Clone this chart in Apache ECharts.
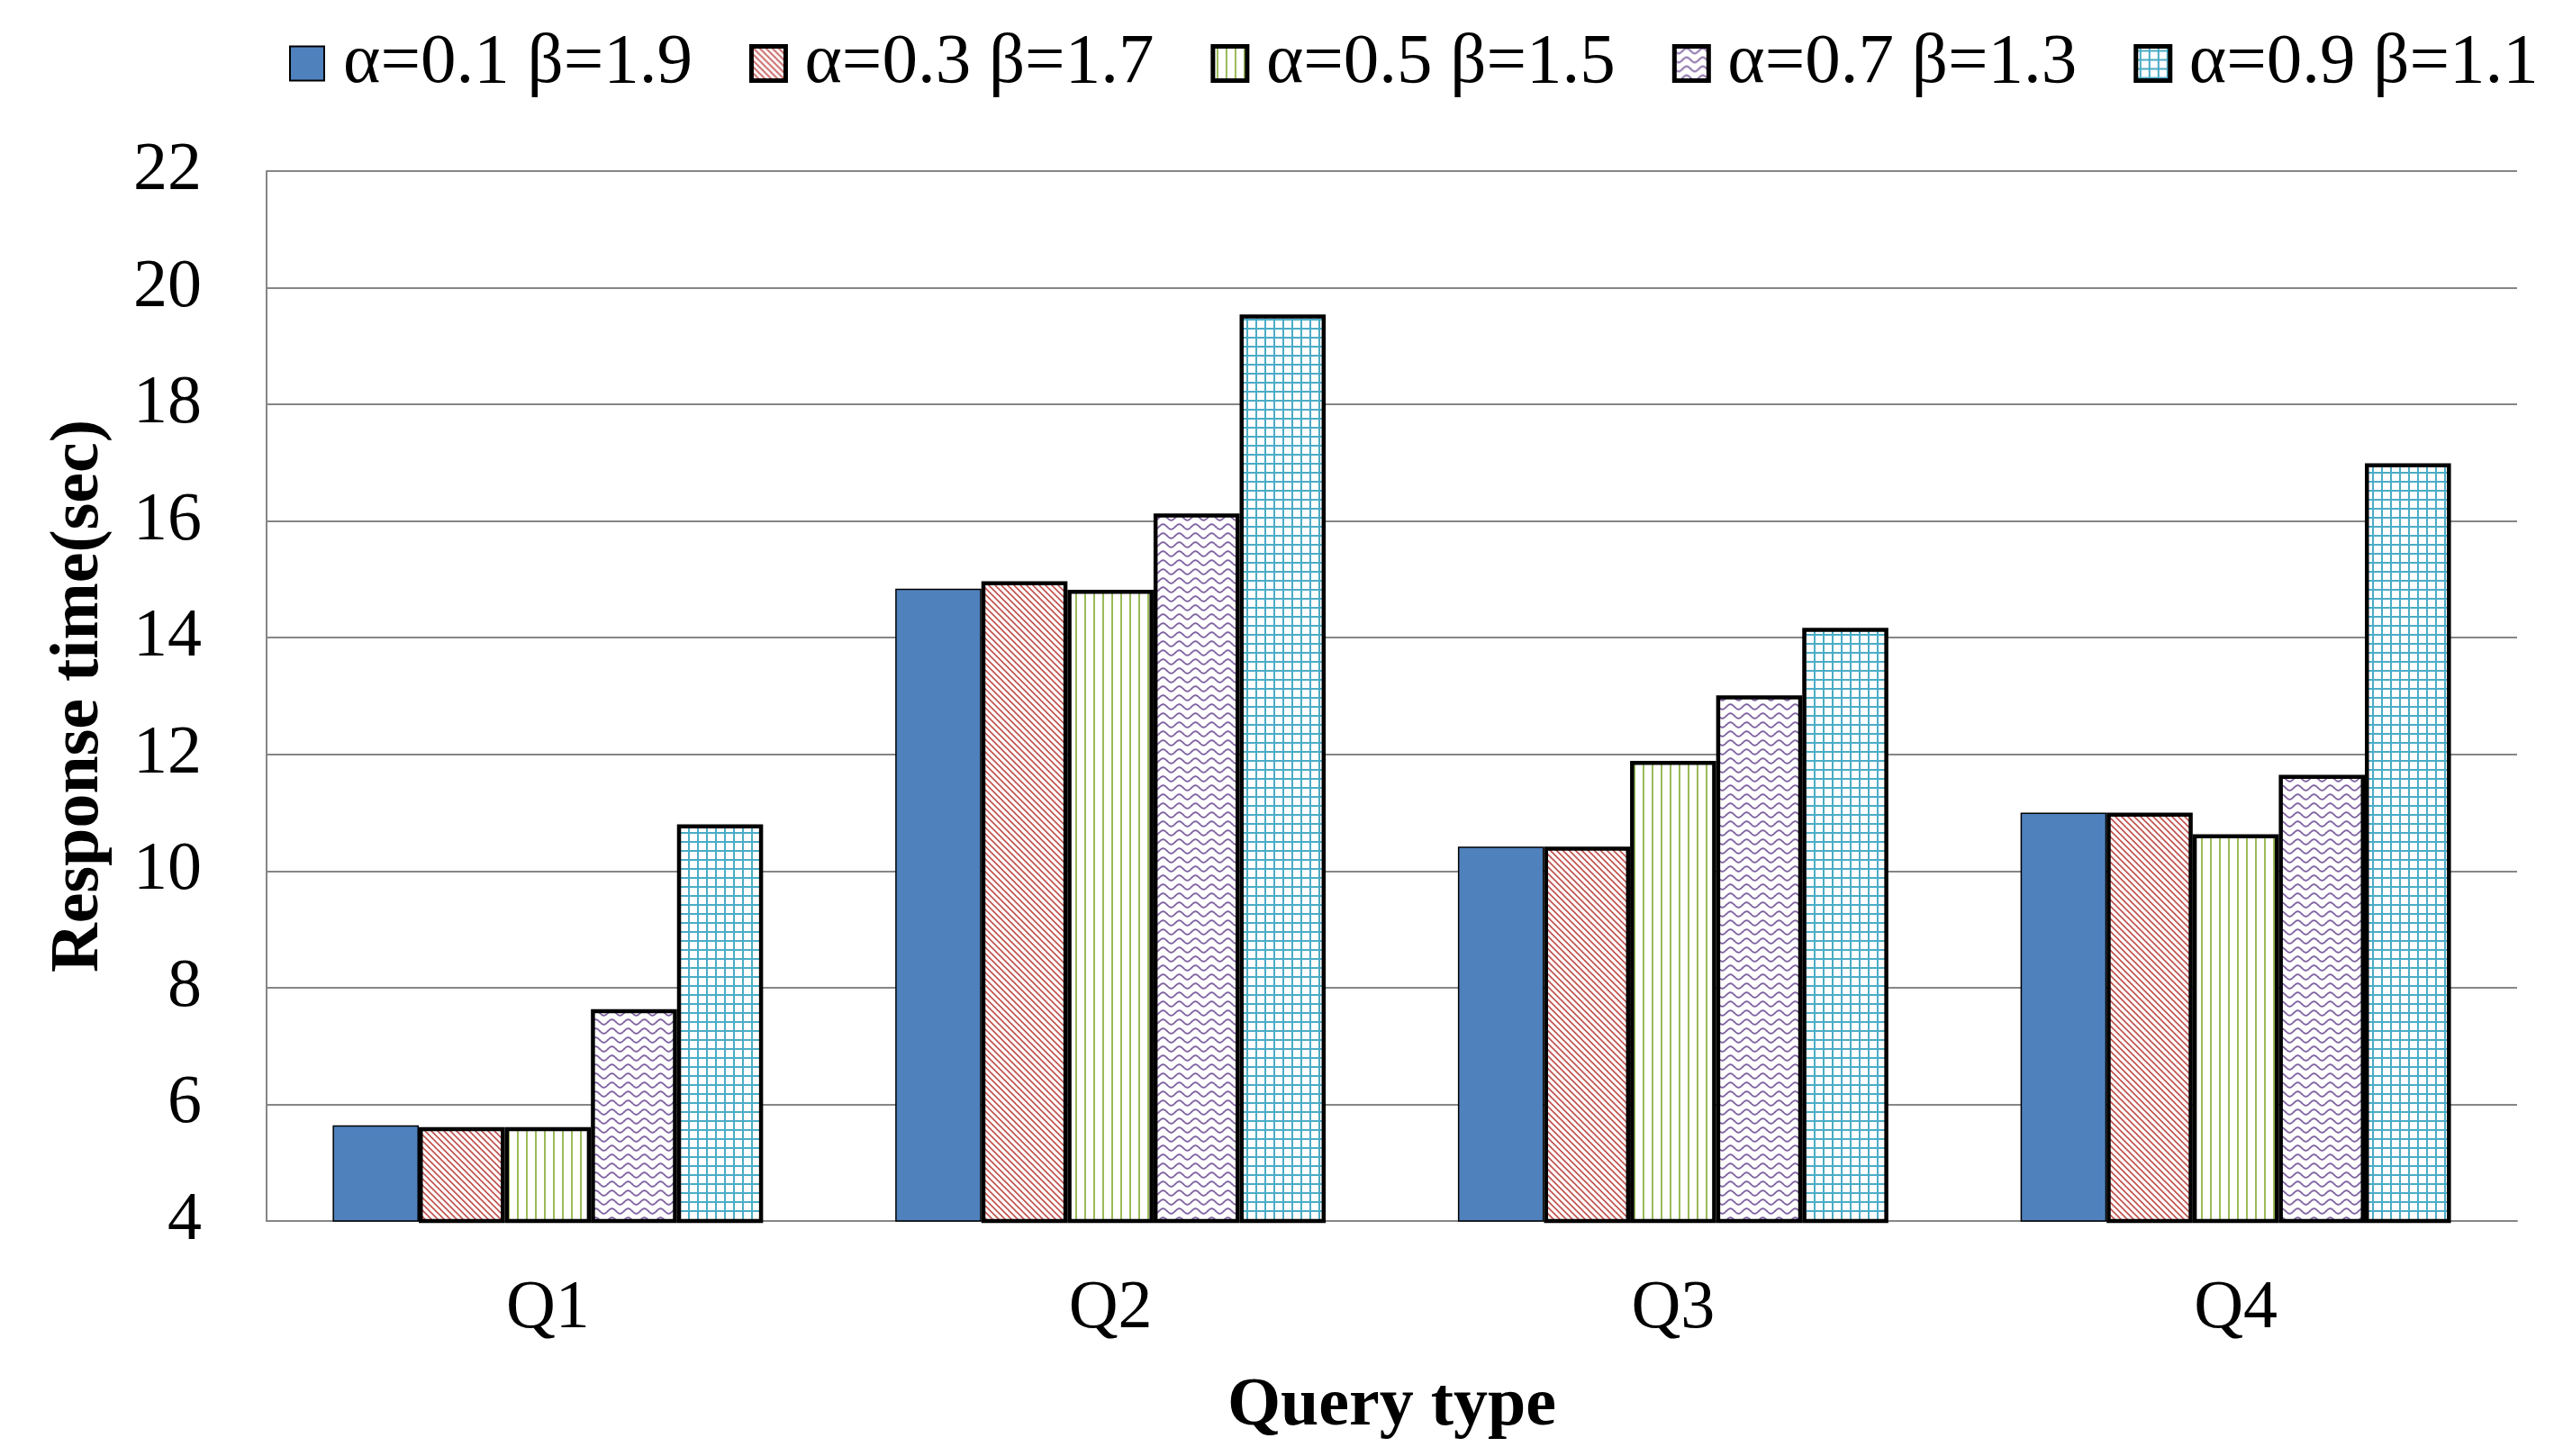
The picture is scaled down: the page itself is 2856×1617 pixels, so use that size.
<!DOCTYPE html>
<html>
<head>
<meta charset="utf-8">
<script src="https://cdn.jsdelivr.net/npm/echarts@6/dist/echarts.min.js"></script>
<style>
html,body{margin:0;padding:0;background:#fff;}
#chart{width:2856px;height:1617px;}
</style>
</head>
<body>
<div id="chart"></div>
<script>
// ---- data ----
const categories = ['Q1', 'Q2', 'Q3', 'Q4'];
const seriesNames = ['α=0.1 β=1.9', 'α=0.3 β=1.7', 'α=0.5 β=1.5', 'α=0.7 β=1.3', 'α=0.9 β=1.1'];
const valuesA01 = [5.64, 14.84, 10.42, 11.00];
const valuesA03 = [5.61, 14.97, 10.42, 11.00];
const valuesA05 = [5.61, 14.82, 11.89, 10.63];
const valuesA07 = [7.63, 16.13, 13.01, 11.65];
const valuesA09 = [10.80, 19.54, 14.17, 16.99];
const yMin = 4, yMax = 22, yInterval = 2;

// ---- patterns ----
function tile(w, h, draw) {
  const c = document.createElement('canvas');
  c.width = w; c.height = h;
  const ctx = c.getContext('2d');
  ctx.fillStyle = '#ffffff';
  ctx.fillRect(0, 0, w, h);
  draw(ctx, w, h);
  return { image: c, repeat: 'repeat' };
}
const patDiag = tile(7, 7, (ctx, w, h) => {
  ctx.strokeStyle = '#C0504D'; ctx.lineWidth = 1.6;
  for (const k of [-w, 0, w]) {
    ctx.beginPath(); ctx.moveTo(k - 1, -1); ctx.lineTo(k + w + 1, h + 1); ctx.stroke();
  }
});
const patVert = tile(10, 10, (ctx, w, h) => {
  ctx.fillStyle = '#9BBB59';
  ctx.fillRect(4, 0, 2, h);
});
const patWave = tile(18, 10, (ctx, w, h) => {
  ctx.strokeStyle = '#8064A2'; ctx.lineWidth = 1.8;
  ctx.beginPath();
  for (let x = -1; x <= w + 1; x += 0.5) {
    const y = 5 + 2.8 * Math.sin(2 * Math.PI * x / w);
    if (x === -1) ctx.moveTo(x, y); else ctx.lineTo(x, y);
  }
  ctx.stroke();
});
const patGrid = tile(10, 10, (ctx, w, h) => {
  ctx.fillStyle = '#4BACC6';
  ctx.fillRect(4, 0, 2, h);
  ctx.fillRect(0, 4, w, 2);
});

const FONT = 'Liberation Serif';
const styles = [
  { color: '#4F81BD', borderColor: '#000', borderWidth: 1.5 },
  { color: patDiag, borderColor: '#000', borderWidth: 4.5 },
  { color: patVert, borderColor: '#000', borderWidth: 4.5 },
  { color: patWave, borderColor: '#000', borderWidth: 4.5 },
  { color: patGrid, borderColor: '#000', borderWidth: 4.5 }
];
const allValues = [valuesA01, valuesA03, valuesA05, valuesA07, valuesA09];

const series = seriesNames.map((name, i) => ({
  name: name,
  type: 'bar',
  data: allValues[i],
  barGap: '0%',
  barCategoryGap: '23.5%',
  itemStyle: styles[i],
  emphasis: { disabled: true }
}));

const legendData = seriesNames.map((name, i) => ({
  name: name,
  itemStyle: { borderColor: '#000', borderWidth: i === 0 ? 2 : 5 }
}));

const chart = echarts.init(document.getElementById('chart'), null, { renderer: 'canvas' });
chart.setOption({
  animation: false,
  backgroundColor: '#ffffff',
  textStyle: { fontFamily: FONT },
  legend: {
    data: legendData,
    left: 316,
    top: 26,
    itemWidth: 38,
    itemHeight: 38,
    itemGap: 63,
    icon: 'rect',
    textStyle: { fontFamily: FONT, fontSize: 79, color: '#000', padding: [0, 0, 0, 16] }
  },
  grid: { left: 296, right: 61, top: 190, bottom: 261, containLabel: false },
  xAxis: {
    type: 'category',
    data: categories,
    name: 'Query type',
    nameLocation: 'middle',
    nameGap: 168,
    nameTextStyle: { fontFamily: FONT, fontSize: 76, fontWeight: 'bold', color: '#000' },
    axisLine: { show: true, lineStyle: { color: '#868686', width: 2 } },
    axisTick: { show: false },
    axisLabel: { margin: 60, fontFamily: FONT, fontSize: 76, color: '#000' }
  },
  yAxis: {
    type: 'value',
    min: yMin, max: yMax, interval: yInterval,
    name: 'Response time(sec)',
    nameLocation: 'middle',
    nameGap: 170,
    nameTextStyle: { fontFamily: FONT, fontSize: 76, fontWeight: 'bold', color: '#000' },
    axisLine: { show: true, lineStyle: { color: '#868686', width: 2 } },
    axisTick: { show: false },
    splitLine: { show: true, lineStyle: { color: '#868686', width: 2 } },
    axisLabel: { margin: 72, fontFamily: FONT, fontSize: 76, color: '#000' }
  },
  series: series
});
</script>
</body>
</html>
